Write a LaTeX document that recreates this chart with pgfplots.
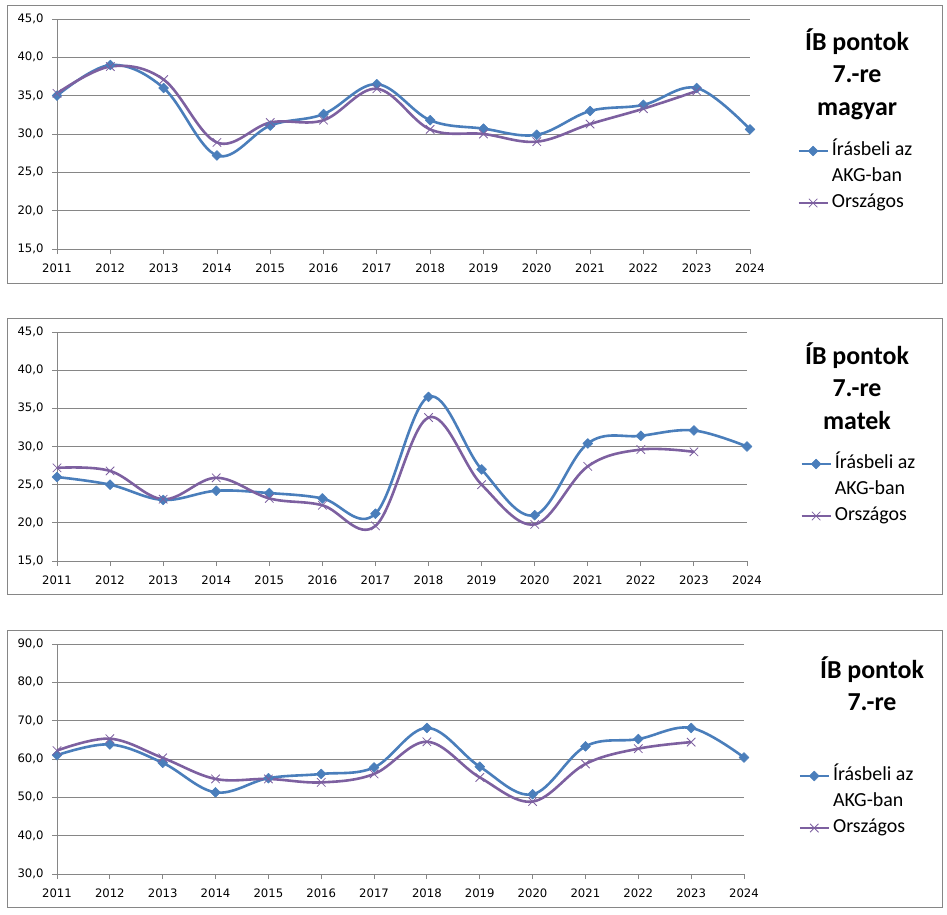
\documentclass[border=0pt]{standalone}
\usepackage{fontspec}
\setmainfont{Carlito}
\newfontfamily\tickfont{DejaVu Sans}
\usepackage{pgfplots}
\pgfplotsset{compat=1.18}
\definecolor{sblue}{HTML}{4A7EBB}
\definecolor{spurple}{HTML}{7D60A0}
\definecolor{gridgray}{HTML}{868686}
\pgfplotsset{
  panel/.style={
    scale only axis,
    axis lines=left,
    axis line style={-, draw=gridgray, line width=0.8bp},
    xmin=2011, xmax=2024,
    xtick={2011,...,2024},
    tick align=outside,
    major tick length=5bp,
    tick style={draw=gridgray, line width=0.8bp},
    ymajorgrids,
    grid style={draw=gridgray, line width=0.8bp},
    clip=false,
    ticklabel style={font=\tickfont\fontsize{11.7}{13}\selectfont},
    /pgf/number format/assume math mode=true,
    yticklabel style={/pgf/number format/fixed, /pgf/number format/fixed zerofill, /pgf/number format/precision=1, /pgf/number format/use comma, xshift=-5bp},
    xticklabel style={/pgf/number format/1000 sep={}, yshift=-6bp},
    legend style={draw=none, fill=none, inner sep=0pt, anchor=west, font=\fontsize{20}{24}\selectfont,
       column sep=3bp, row sep=7bp, nodes={inner sep=0pt, text height=14bp, text depth=5bp}},
    legend cell align=left,
    legend image code/.code={\draw[mark repeat=2,mark phase=2,#1] plot coordinates {(0bp,0bp) (14.5bp,0bp) (29bp,0bp)};},
  },
  sA/.style={sblue, line width=2.6bp, smooth, tension=0.6, line join=round, mark=square*, mark size=3.5bp, mark options={rotate=45, fill=sblue, draw=sblue, line width=0.5bp}},
  sB/.style={spurple, line width=2.6bp, smooth, tension=0.6, line join=round, mark=x, mark size=6bp, mark options={line width=0.8bp}},
}
\newcommand\titlefont{\bfseries\fontsize{26}{32.5}\selectfont}
\begin{document}
\begin{tikzpicture}
\path[use as bounding box] (0bp,0bp) rectangle (947bp,-915bp);
\draw[gridgray, line width=1bp] (7bp,-5bp) rectangle (942bp,-283bp);
\draw[gridgray, line width=1bp] (7bp,-318bp) rectangle (942bp,-594bp);
\draw[gridgray, line width=1bp] (7bp,-630bp) rectangle (942bp,-907bp);

% Panel 1
\begin{axis}[panel, at={(57bp,-249bp)}, anchor=south west, width=693bp, height=230bp,
  ymin=15, ymax=45, ytick={15,20,...,45},
  legend style={at={(1.068,0.313)}}]
\addplot[sA] coordinates {(2011,35.0) (2012,39.0) (2013,36.0) (2014,27.2) (2015,31.1) (2016,32.6) (2017,36.5) (2018,31.8) (2019,30.7) (2020,29.9) (2021,33.0) (2022,33.8) (2023,36.0) (2024,30.6)};
\addlegendentry{Írásbeli az}
\addlegendimage{empty legend}
\addlegendentry{AKG-ban}
\addplot[sB] coordinates {(2011,35.3) (2012,38.8) (2013,37.1) (2014,28.9) (2015,31.5) (2016,31.8) (2017,35.9) (2018,30.6) (2019,30.0) (2020,29.0) (2021,31.3) (2022,33.3) (2023,35.6)};
\addlegendentry{Országos}
\end{axis}
\node[align=center, font=\titlefont] at (857bp,-74bp) {ÍB pontok\\7.-re\\magyar};

% Panel 2
\begin{axis}[panel, at={(57bp,-561bp)}, anchor=south west, width=690bp, height=229bp,
  ymin=15, ymax=45, ytick={15,20,...,45},
  legend style={at={(1.077,0.31)}}]
\addplot[sA] coordinates {(2011,26.0) (2012,25.0) (2013,23.0) (2014,24.2) (2015,23.9) (2016,23.2) (2017,21.2) (2018,36.5) (2019,27.0) (2020,21.0) (2021,30.4) (2022,31.4) (2023,32.1) (2024,30.0)};
\addlegendentry{Írásbeli az}
\addlegendimage{empty legend}
\addlegendentry{AKG-ban}
\addplot[sB] coordinates {(2011,27.2) (2012,26.8) (2013,23.1) (2014,25.9) (2015,23.2) (2016,22.3) (2017,19.6) (2018,33.8) (2019,25.0) (2020,19.8) (2021,27.4) (2022,29.6) (2023,29.3)};
\addlegendentry{Országos}
\end{axis}
\node[align=center, font=\titlefont] at (857bp,-386bp) {ÍB pontok\\7.-re\\matek};

% Panel 3
\begin{axis}[panel, at={(57bp,-874bp)}, anchor=south west, width=687bp, height=230bp,
  ymin=30, ymax=90, ytick={30,40,...,90},
  legend style={at={(1.079,0.313)}}]
\addplot[sA] coordinates {(2011,61.0) (2012,63.8) (2013,59.0) (2014,51.3) (2015,55.0) (2016,56.1) (2017,57.8) (2018,68.1) (2019,58.0) (2020,50.8) (2021,63.3) (2022,65.2) (2023,68.1) (2024,60.4)};
\addlegendentry{Írásbeli az}
\addlegendimage{empty legend}
\addlegendentry{AKG-ban}
\addplot[sB] coordinates {(2011,62.2) (2012,65.3) (2013,60.3) (2014,54.8) (2015,54.8) (2016,53.9) (2017,56.1) (2018,64.5) (2019,55.2) (2020,48.9) (2021,58.7) (2022,62.7) (2023,64.4)};
\addlegendentry{Országos}
\end{axis}
\node[align=center, font=\titlefont] at (872bp,-683.5bp) {ÍB pontok\\7.-re};
\end{tikzpicture}
\end{document}
